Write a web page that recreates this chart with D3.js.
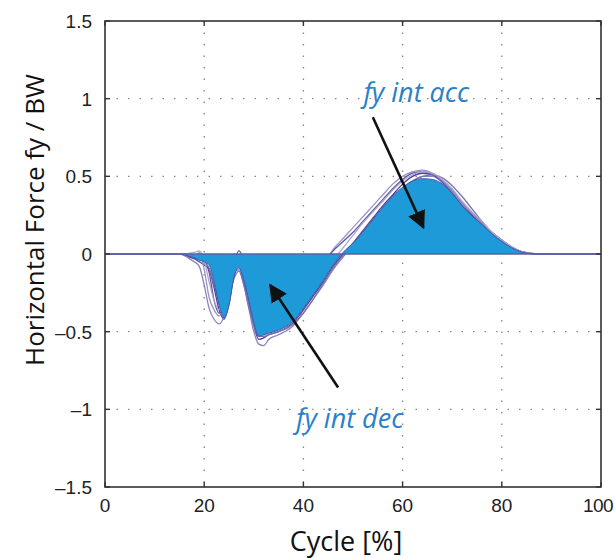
<!DOCTYPE html>
<html>
<head>
<meta charset="utf-8">
<script src="https://cdn.jsdelivr.net/npm/d3@7"></script>
<style>
  body { margin: 0; background: #fff; }
</style>
</head>
<body>
<div id="chart"></div>
<script>
// Cycle positions (%) shared by every trace
const cycle = [0, 15, 16, 17, 18, 19, 20, 21, 22, 23, 24, 25, 26, 27, 28, 29, 30, 31, 32, 33, 35, 38, 40, 42, 44, 46, 48, 50, 52, 54, 56, 58, 60, 62, 64, 66, 68, 70, 72, 74, 76, 78, 80, 82, 84, 86, 88, 90, 100];

// Mean curve (filled area)
const meanForce = [0, 0, -0.005, -0.015, -0.025, -0.04, -0.05, -0.07, -0.18, -0.33, -0.41, -0.33, -0.15, -0.09, -0.17, -0.30, -0.44, -0.53, -0.52, -0.51, -0.49, -0.43, -0.35, -0.26, -0.17, -0.07, 0.01, 0.07, 0.14, 0.22, 0.30, 0.37, 0.43, 0.47, 0.485, 0.48, 0.45, 0.39, 0.31, 0.245, 0.19, 0.13, 0.08, 0.04, 0.013, 0.003, 0.001, 0, 0];

// Individual trials (thin lines)
const trial1 = [0, 0, -0.005, -0.02, -0.03, -0.05, -0.07, -0.10, -0.22, -0.36, -0.42, -0.32, -0.14, -0.08, -0.18, -0.32, -0.46, -0.55, -0.54, -0.52, -0.50, -0.44, -0.36, -0.27, -0.18, -0.08, 0.0, 0.07, 0.15, 0.23, 0.31, 0.38, 0.45, 0.50, 0.52, 0.51, 0.47, 0.40, 0.32, 0.25, 0.19, 0.13, 0.08, 0.04, 0.013, 0.003, 0, 0, 0];
const trial2 = [0, 0, 0, -0.01, -0.02, 0.01, -0.10, -0.28, -0.36, -0.40, -0.30, -0.12, 0.0, -0.02, -0.15, -0.30, -0.42, -0.50, -0.52, -0.50, -0.46, -0.38, -0.31, -0.22, -0.08, 0.03, 0.10, 0.17, 0.24, 0.31, 0.38, 0.45, 0.50, 0.53, 0.54, 0.52, 0.47, 0.40, 0.32, 0.26, 0.20, 0.135, 0.085, 0.045, 0.015, 0.004, 0, 0, 0];
const trial3 = [0, 0, -0.01, -0.03, -0.05, -0.08, -0.20, -0.35, -0.42, -0.45, -0.40, -0.25, -0.12, -0.10, -0.20, -0.35, -0.50, -0.58, -0.59, -0.55, -0.52, -0.46, -0.38, -0.29, -0.20, -0.10, -0.02, 0.06, 0.13, 0.21, 0.29, 0.36, 0.42, 0.47, 0.50, 0.50, 0.47, 0.41, 0.33, 0.26, 0.20, 0.14, 0.09, 0.045, 0.015, 0.004, 0, 0, 0];
const trial4 = [0, 0, 0, -0.005, -0.01, -0.02, -0.04, -0.12, -0.30, -0.38, -0.36, -0.20, -0.06, 0.02, -0.05, -0.22, -0.40, -0.50, -0.50, -0.48, -0.45, -0.37, -0.30, -0.20, -0.06, 0.02, 0.08, 0.14, 0.21, 0.28, 0.35, 0.42, 0.48, 0.52, 0.53, 0.51, 0.46, 0.39, 0.31, 0.24, 0.18, 0.12, 0.075, 0.035, 0.01, 0.002, 0, 0, 0];
const trial5 = [0, 0, -0.005, -0.01, -0.02, -0.03, -0.05, -0.09, -0.20, -0.30, -0.34, -0.28, -0.16, -0.11, -0.20, -0.34, -0.46, -0.53, -0.53, -0.52, -0.50, -0.45, -0.38, -0.29, -0.19, -0.09, -0.01, 0.06, 0.13, 0.21, 0.29, 0.36, 0.42, 0.47, 0.50, 0.51, 0.49, 0.44, 0.37, 0.29, 0.21, 0.14, 0.09, 0.045, 0.015, 0.004, 0.001, 0, 0];
const trial6 = [0, 0, 0, 0.005, 0.01, 0.02, -0.04, -0.18, -0.30, -0.36, -0.33, -0.18, -0.08, -0.06, -0.14, -0.28, -0.40, -0.48, -0.50, -0.48, -0.44, -0.38, -0.32, -0.24, -0.14, -0.04, 0.04, 0.12, 0.20, 0.27, 0.34, 0.41, 0.47, 0.51, 0.53, 0.52, 0.48, 0.42, 0.34, 0.27, 0.21, 0.14, 0.09, 0.045, 0.015, 0.004, 0, 0, 0];
const trials = [trial1, trial2, trial3, trial4, trial5, trial6];
const trialColors = ["#4b4199", "#9a95c4", "#8a84b8", "#5d53a6", "#7a73b2", "#aaa5cc"];

// Tick values and labels
const xTicks = [0, 20, 40, 60, 80, 100];
const yTicks = [-1.5, -1, -0.5, 0, 0.5, 1, 1.5];

// Annotations: text position and arrow start/end, all in data units
const notes = [
  { label: "fy int acc", tx: 52.1, ty: 0.98, x1: 54.0, y1: 0.88, x2: 64.2, y2: 0.17 },
  { label: "fy int dec", tx: 38.5, ty: -1.12, x1: 47.0, y1: -0.86, x2: 33.3, y2: -0.20 },
];

const W = 615, H = 558;
const margin = { top: 21, right: 14, bottom: 71, left: 105 };
const width = W - margin.left - margin.right;
const height = H - margin.top - margin.bottom;

const svg = d3.select("#chart").append("svg")
  .attr("width", W)
  .attr("height", H)
  .style("font-family", "'Liberation Sans', Arial, sans-serif");

// Arrow head marker
svg.append("defs").append("marker")
  .attr("id", "arrow")
  .attr("viewBox", "0 0 10 10")
  .attr("refX", 9).attr("refY", 5)
  .attr("markerWidth", 7).attr("markerHeight", 7)
  .attr("markerUnits", "strokeWidth")
  .attr("orient", "auto")
  .append("path")
  .attr("d", "M0,0 L10,5 L0,10 z")
  .attr("fill", "#111");

const g = svg.append("g").attr("transform", `translate(${margin.left},${margin.top})`);

const x = d3.scaleLinear().domain([0, 100]).range([0, width]);
const y = d3.scaleLinear().domain([-1.5, 1.5]).range([height, 0]);

// Dotted grid
g.append("g").selectAll("line")
  .data(xTicks.slice(1, -1))
  .join("line")
  .attr("x1", (d) => x(d)).attr("x2", (d) => x(d))
  .attr("y1", 0).attr("y2", height)
  .attr("stroke", "#8a8a8a").attr("stroke-width", 1.4)
  .attr("stroke-dasharray", "1.5,10");
g.append("g").selectAll("line")
  .data(yTicks.filter((d) => d !== 0 && Math.abs(d) < 1.5))
  .join("line")
  .attr("y1", (d) => y(d)).attr("y2", (d) => y(d))
  .attr("x1", 0).attr("x2", width)
  .attr("stroke", "#8a8a8a").attr("stroke-width", 1.4)
  .attr("stroke-dasharray", "1.5,10");

const line = (vals) => d3.line()
  .x((d, i) => x(cycle[i]))
  .y((d) => y(d))
  .curve(d3.curveMonotoneX)(vals);

// Trial lines
g.append("g").selectAll("path")
  .data(trials)
  .join("path")
  .attr("d", (d) => line(d))
  .attr("fill", "none")
  .attr("stroke", (d, i) => trialColors[i])
  .attr("stroke-width", 1.3);

// Mean area
const area = d3.area()
  .x((d, i) => x(cycle[i]))
  .y0(y(0))
  .y1((d) => y(d))
  .curve(d3.curveMonotoneX);
g.append("path")
  .datum(meanForce)
  .attr("d", area)
  .attr("fill", "#1f9ad8");
g.append("path")
  .attr("d", line(meanForce))
  .attr("fill", "none")
  .attr("stroke", "#4a55a5")
  .attr("stroke-width", 1);

// Zero line
g.append("line")
  .attr("x1", 0).attr("x2", width)
  .attr("y1", y(0)).attr("y2", y(0))
  .attr("stroke", "#5b5fa0").attr("stroke-width", 1.6);

// Frame and inward ticks on all sides
g.append("rect")
  .attr("width", width).attr("height", height)
  .attr("fill", "none").attr("stroke", "#333").attr("stroke-width", 1.6);
const tk = 5;
xTicks.forEach((t) => {
  g.append("line").attr("x1", x(t)).attr("x2", x(t)).attr("y1", height).attr("y2", height - tk).attr("stroke", "#333").attr("stroke-width", 1.4);
  g.append("line").attr("x1", x(t)).attr("x2", x(t)).attr("y1", 0).attr("y2", tk).attr("stroke", "#333").attr("stroke-width", 1.4);
});
yTicks.forEach((t) => {
  g.append("line").attr("y1", y(t)).attr("y2", y(t)).attr("x1", 0).attr("x2", tk).attr("stroke", "#333").attr("stroke-width", 1.4);
  g.append("line").attr("y1", y(t)).attr("y2", y(t)).attr("x1", width).attr("x2", width - tk).attr("stroke", "#333").attr("stroke-width", 1.4);
});

// Tick labels (last one kept inside the window edge)
const fmt = (d) => (d < 0 ? "\u2013" + Math.abs(d) : String(d));
g.append("g").selectAll("text")
  .data(xTicks)
  .join("text")
  .attr("x", (d) => (d === 100 ? x(d) + 12 : x(d)))
  .attr("y", height + 25)
  .attr("text-anchor", (d) => (d === 100 ? "end" : "middle"))
  .attr("font-size", 19)
  .attr("letter-spacing", (d) => (d === 100 ? -0.6 : 0))
  .attr("fill", "#222")
  .text((d) => d);
g.append("g").selectAll("text")
  .data(yTicks)
  .join("text")
  .attr("x", -13)
  .attr("y", (d) => y(d) + 7)
  .attr("text-anchor", "end")
  .attr("font-size", 19)
  .attr("fill", "#222")
  .text(fmt);

// Axis titles
svg.append("text")
  .attr("x", 346)
  .attr("y", 551)
  .attr("text-anchor", "middle")
  .attr("font-family", "'Open Sans', sans-serif")
  .attr("font-size", 27)
  .attr("fill", "#111")
  .text("Cycle [%]");
svg.append("text")
  .attr("transform", "translate(44,220) rotate(-90)")
  .attr("text-anchor", "middle")
  .attr("font-family", "'Open Sans', sans-serif")
  .attr("font-size", 26)
  .attr("fill", "#111")
  .text("Horizontal Force fy / BW");

// Annotations with arrows
notes.forEach((n) => {
  g.append("line")
    .attr("x1", x(n.x1)).attr("y1", y(n.y1))
    .attr("x2", x(n.x2)).attr("y2", y(n.y2))
    .attr("stroke", "#111").attr("stroke-width", 2.6)
    .attr("marker-end", "url(#arrow)");
  g.append("text")
    .attr("x", x(n.tx)).attr("y", y(n.ty))
    .attr("font-family", "'Open Sans', sans-serif")
    .attr("font-style", "italic")
    .attr("font-size", 27)
    .attr("fill", "#2a7fc9")
    .text(n.label);
});
</script>
</body>
</html>
